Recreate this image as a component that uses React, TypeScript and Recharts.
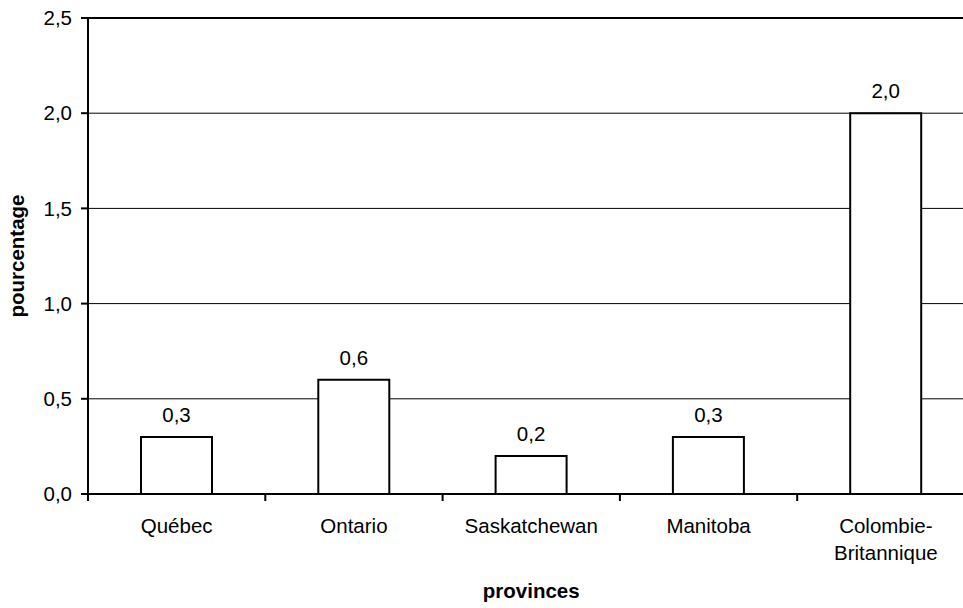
import { Bar, ComposedChart, CartesianGrid, LabelList, Line, ReferenceLine, XAxis, YAxis } from "recharts";

const provinces = ["Québec", "Ontario", "Saskatchewan", "Manitoba", "Colombie-\nBritannique"];
const pourcentages = [0.3, 0.6, 0.2, 0.3, 2.0];
const yTicks = [0, 0.5, 1, 1.5, 2, 2.5];

// pos = centre of each category on the numeric axis; ticks at boundaries and centres
const data = provinces.map((p, i) => ({ province: p, value: pourcentages[i], pos: i + 0.5 }));
const xTicks = provinces.flatMap((_, i) => [i, i + 0.5]).concat(provinces.length);

const FONT = '"Liberation Sans", Arial, sans-serif';
const fmt = (v: number) => Number(v).toFixed(1).replace(".", ",");

function ProvinceTick({ x, y, payload }: any) {
  const v = Number(payload.value);
  if (Number.isInteger(v)) {
    return <line x1={x} x2={x} y1={y} y2={y + 7} stroke="#000" strokeWidth={2} />;
  }
  const lines = provinces[Math.floor(v)].split("\n");
  return (
    <text x={x} y={y} textAnchor="middle" fontFamily={FONT} fontSize={20.5} fill="#000">
      {lines.map((l, i) => (
        <tspan key={i} x={x} dy={i === 0 ? 38.5 : 27.5}>
          {l}
        </tspan>
      ))}
    </text>
  );
}

export default function App() {
  return (
    <div style={{ position: "absolute", left: 0, top: 0, width: 963, height: 608, overflow: "hidden", background: "#fff" }}>
      <ComposedChart
        width={1000}
        height={608}
        data={data}
        margin={{ top: 18, right: 25.5, left: 0, bottom: 0 }}
        style={{ fontFamily: FONT }}
      >
        <CartesianGrid vertical={false} stroke="#000" strokeWidth={1} />
        <XAxis xAxisId="cat" dataKey="province" hide height={0} />
        <XAxis
          xAxisId="pos"
          type="number"
          dataKey="pos"
          domain={[0, provinces.length]}
          ticks={xTicks}
          interval={0}
          allowDataOverflow
          axisLine={{ stroke: "#000", strokeWidth: 2 }}
          tickLine={false}
          tickSize={0}
          tickMargin={0}
          tick={<ProvinceTick />}
          height={114}
          label={{
            value: "provinces",
            position: "insideBottom",
            offset: 10,
            fontFamily: FONT,
            fontSize: 20.5,
            fontWeight: "bold",
            fill: "#000",
          }}
        />
        <YAxis
          domain={[0, 2.5]}
          ticks={yTicks}
          tickFormatter={fmt}
          width={88}
          axisLine={{ stroke: "#000", strokeWidth: 2 }}
          tickLine={{ stroke: "#000", strokeWidth: 2 }}
          tickSize={7}
          tickMargin={9}
          tick={{ fill: "#000", fontSize: 20.5, fontFamily: FONT }}
          label={{
            value: "pourcentage",
            angle: -90,
            position: "insideLeft",
            offset: 17,
            textAnchor: "middle",
            fontFamily: FONT,
            fontSize: 20.5,
            fontWeight: "bold",
            fill: "#000",
          }}
        />
        <ReferenceLine xAxisId="cat" y={2.5} stroke="#000" strokeWidth={2} />
        <Line
          xAxisId="pos"
          dataKey="value"
          stroke="none"
          dot={false}
          activeDot={false}
          legendType="none"
          isAnimationActive={false}
        />
        <Bar
          xAxisId="cat"
          dataKey="value"
          barSize={71}
          fill="#fff"
          stroke="#000"
          strokeWidth={2}
          isAnimationActive={false}
        >
          <LabelList
            dataKey="value"
            position="top"
            offset={15}
            formatter={(v: any) => fmt(v)}
            fill="#000"
            fontSize={20.5}
            fontFamily={FONT}
          />
        </Bar>
      </ComposedChart>
    </div>
  );
}
